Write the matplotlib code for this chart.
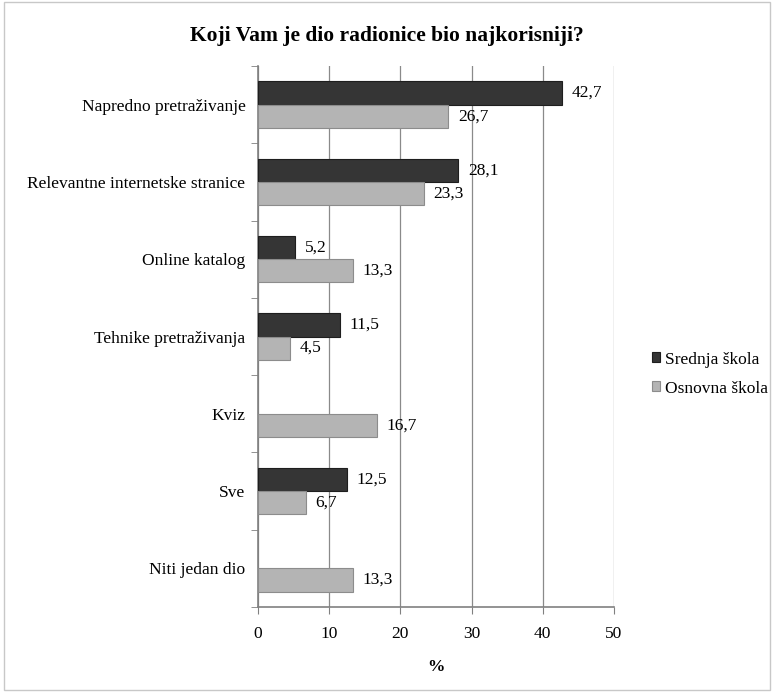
import matplotlib
matplotlib.use("Agg")
import matplotlib.pyplot as plt
from matplotlib.patches import Rectangle
import numpy as np

categories = [
    "Napredno pretraživanje",
    "Relevantne internetske stranice",
    "Online katalog",
    "Tehnike pretraživanja",
    "Kviz",
    "Sve",
    "Niti jedan dio",
]
srednja = [42.7, 28.1, 5.2, 11.5, None, 12.5, None]
osnovna = [26.7, 23.3, 13.3, 4.5, 16.7, 6.7, 13.3]
series_names = ["Srednja škola", "Osnovna škola"]
x_ticks = [0, 10, 20, 30, 40, 50]

plt.rcParams["font.family"] = ["Liberation Serif", "DejaVu Serif"]
FS = 12.5

fig = plt.figure(figsize=(7.74, 6.92), dpi=100)
ax = fig.add_axes([0.3333, 0.1228, 0.46, 0.7818])

fig.patches.append(Rectangle((0.005, 0.003), 0.99, 0.994, transform=fig.transFigure,
                             fill=False, edgecolor="#c8c8c8", linewidth=1.0))

y = np.arange(len(categories))
h = 0.30


def fmt(v):
    return f"{v:.1f}".replace(".", ",")


dark_y = [yi - h / 2 for yi, v in zip(y, srednja) if v is not None]
dark_vals = [v for v in srednja if v is not None]
dark = ax.barh(dark_y, dark_vals, height=h, color="#353535",
               edgecolor="#1e1e1e", linewidth=0.8, label=series_names[0], zorder=3)
light = ax.barh(y + h / 2, osnovna, height=h, color="#b4b4b4",
                edgecolor="#8c8c8c", linewidth=0.8, label=series_names[1], zorder=3)

for yi, v in zip(dark_y, dark_vals):
    ax.annotate(fmt(v), (v, yi), xytext=(7, 0), textcoords="offset points",
                va="center", ha="left", fontsize=FS)
for yi, v in zip(y, osnovna):
    ax.annotate(fmt(v), (v, yi + h / 2), xytext=(7, 0), textcoords="offset points",
                va="center", ha="left", fontsize=FS)

ax.set_xlim(0, 50)
ax.set_ylim(len(categories) - 0.5, -0.5)
ax.set_xticks(x_ticks)
ax.set_xticklabels([str(t) for t in x_ticks], fontsize=FS)
ax.set_yticks(y)
ax.set_yticklabels(categories, fontsize=FS)
ax.set_yticks(np.arange(len(categories) + 1) - 0.5, minor=True)
ax.tick_params(axis="y", which="major", length=0, pad=9)
ax.tick_params(axis="y", which="minor", length=5, color="#808080")
ax.tick_params(axis="x", length=5, color="#808080", pad=9)
ax.xaxis.grid(True, color="#8a8a8a", linewidth=0.9, zorder=0)
ax.set_axisbelow(True)
for s in ("top", "right"):
    ax.spines[s].set_visible(False)
for s in ("left", "bottom"):
    ax.spines[s].set_color("#808080")
    ax.spines[s].set_linewidth(1.2)

ax.set_xlabel("%", fontsize=FS, fontweight="bold", labelpad=12)
fig.suptitle("Koji Vam je dio radionice bio najkorisniji?", fontsize=15.5,
             fontweight="bold", y=0.963)

fig.legend(handles=[dark, light], labels=series_names, loc="center left",
           bbox_to_anchor=(0.842, 0.4595), frameon=False, fontsize=FS,
           handlelength=0.5, handleheight=0.5, handletextpad=0.25,
           labelspacing=0.75, borderpad=0, borderaxespad=0)

fig.savefig("out.png", dpi=100)
